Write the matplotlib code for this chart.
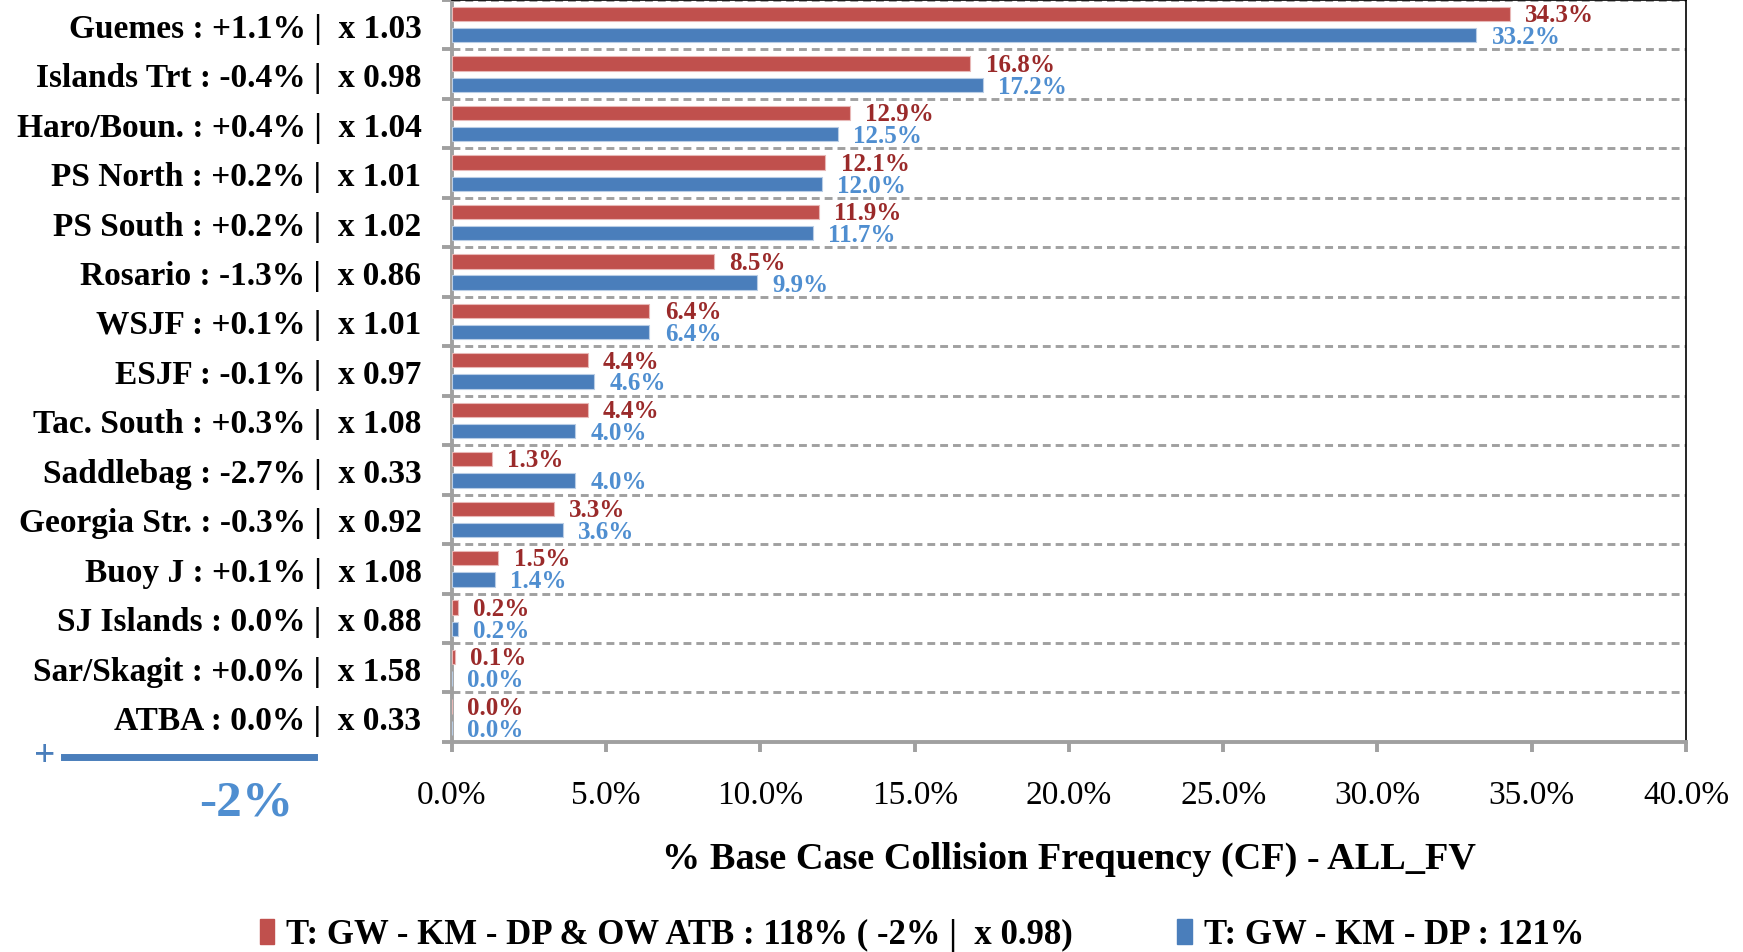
import matplotlib
matplotlib.use("Agg")
import matplotlib.pyplot as plt
from matplotlib.lines import Line2D
from matplotlib.patches import Patch

plt.rcParams['font.family'] = ['Liberation Serif', 'DejaVu Serif']

# data
areas = ["Guemes : +1.1% |  x 1.03", "Islands Trt : -0.4% |  x 0.98",
         "Haro/Boun. : +0.4% |  x 1.04", "PS North : +0.2% |  x 1.01",
         "PS South : +0.2% |  x 1.02", "Rosario : -1.3% |  x 0.86",
         "WSJF : +0.1% |  x 1.01", "ESJF : -0.1% |  x 0.97",
         "Tac. South : +0.3% |  x 1.08", "Saddlebag : -2.7% |  x 0.33",
         "Georgia Str. : -0.3% |  x 0.92", "Buoy J : +0.1% |  x 1.08",
         "SJ Islands : 0.0% |  x 0.88", "Sar/Skagit : +0.0% |  x 1.58",
         "ATBA : 0.0% |  x 0.33"]
red_vals = [34.3, 16.8, 12.9, 12.1, 11.9, 8.5, 6.4, 4.4, 4.4, 1.3, 3.3, 1.5, 0.2, 0.1, 0.0]
blue_vals = [33.2, 17.2, 12.5, 12.0, 11.7, 9.9, 6.4, 4.6, 4.0, 4.0, 3.6, 1.4, 0.2, 0.0, 0.0]
red_name = "T: GW - KM - DP & OW ATB : 118% ( -2% |  x 0.98)"
blue_name = "T: GW - KM - DP : 121%"
xlab = "% Base Case Collision Frequency (CF) - ALL_FV"
scale_txt = "-2%"

red_c = '#C0504D'
blue_c = '#4A7EBB'
red_txt = '#9A2A2A'
blue_txt = '#4F8ED0'
grey = '#A0A0A0'

fig = plt.figure(figsize=(17.43, 9.53), dpi=100)
ax = fig.add_axes([0.2593, 0.2204, 0.708, 0.7786])

pos = list(range(len(areas)))
off = 0.215
h = 0.29
red_y = [p - off for p in pos]
blue_y = [p + off for p in pos]
ax.barh(red_y, red_vals, height=h, color=red_c, edgecolor='#E8B8B7', linewidth=0.8, zorder=3)
ax.barh(blue_y, blue_vals, height=h, color=blue_c, edgecolor='#B9CDE5', linewidth=0.8, zorder=3)

for y, v in zip(red_y, red_vals):
    ax.annotate(f"{v:.1f}%", (v, y), xytext=(11, -0.5), textcoords='offset points',
                va='center', ha='left', color=red_txt, fontsize=18, fontweight='bold')
for y, v in zip(blue_y, blue_vals):
    ax.annotate(f"{v:.1f}%", (v, y), xytext=(11, -1), textcoords='offset points',
                va='center', ha='left', color=blue_txt, fontsize=18, fontweight='bold')

ax.set_xlim(0, 40)
ax.set_ylim(len(areas) - 0.5, -0.5)
ax.set_xticks(range(0, 41, 5))
ax.set_xticklabels([f"{t:.1f}%" for t in range(0, 41, 5)], fontsize=24)
ax.set_yticks(pos)
ax.set_yticklabels(areas, fontsize=24, fontweight='bold')
ax.set_yticks([p - 0.5 for p in pos] + [len(areas) - 0.5], minor=True)
ax.tick_params(axis='y', which='major', length=0, pad=22)
ax.tick_params(axis='y', which='minor', length=7, width=2.8, color=grey)
ax.tick_params(axis='x', length=7, width=2.8, color=grey, pad=20)
ax.grid(axis='y', which='minor', linestyle=(0, (2.7, 1.7)), color=grey, linewidth=2.1, zorder=0)

for s in ['left', 'bottom']:
    ax.spines[s].set_color(grey)
    ax.spines[s].set_linewidth(2.8)
for s in ['top', 'right']:
    ax.spines[s].set_color('black')
    ax.spines[s].set_linewidth(1.2)

ax.set_xlabel(xlab, fontsize=27.5, fontweight='bold', labelpad=22)

handles = [Patch(color=red_c, label=red_name), Patch(color=blue_c, label=blue_name)]
fig.legend(handles=handles, loc='center', bbox_to_anchor=(0.529, 0.018), ncol=2,
           frameon=False, prop={'size': 25, 'weight': 'bold'}, handlelength=0.42,
           handleheight=0.75, handletextpad=0.35, columnspacing=3.0)

# +/- scale marker at bottom left
fig.text(0.0255, 0.206, "+", color=blue_c, fontsize=27, fontweight='bold', ha='center', va='center')
fig.add_artist(Line2D([0.037, 0.180], [0.2046, 0.2046], color=blue_c, linewidth=5))
fig.text(0.1415, 0.157, scale_txt, color=blue_txt, fontsize=37, fontweight='bold', ha='center', va='center')

fig.savefig("out.png", dpi=100)
